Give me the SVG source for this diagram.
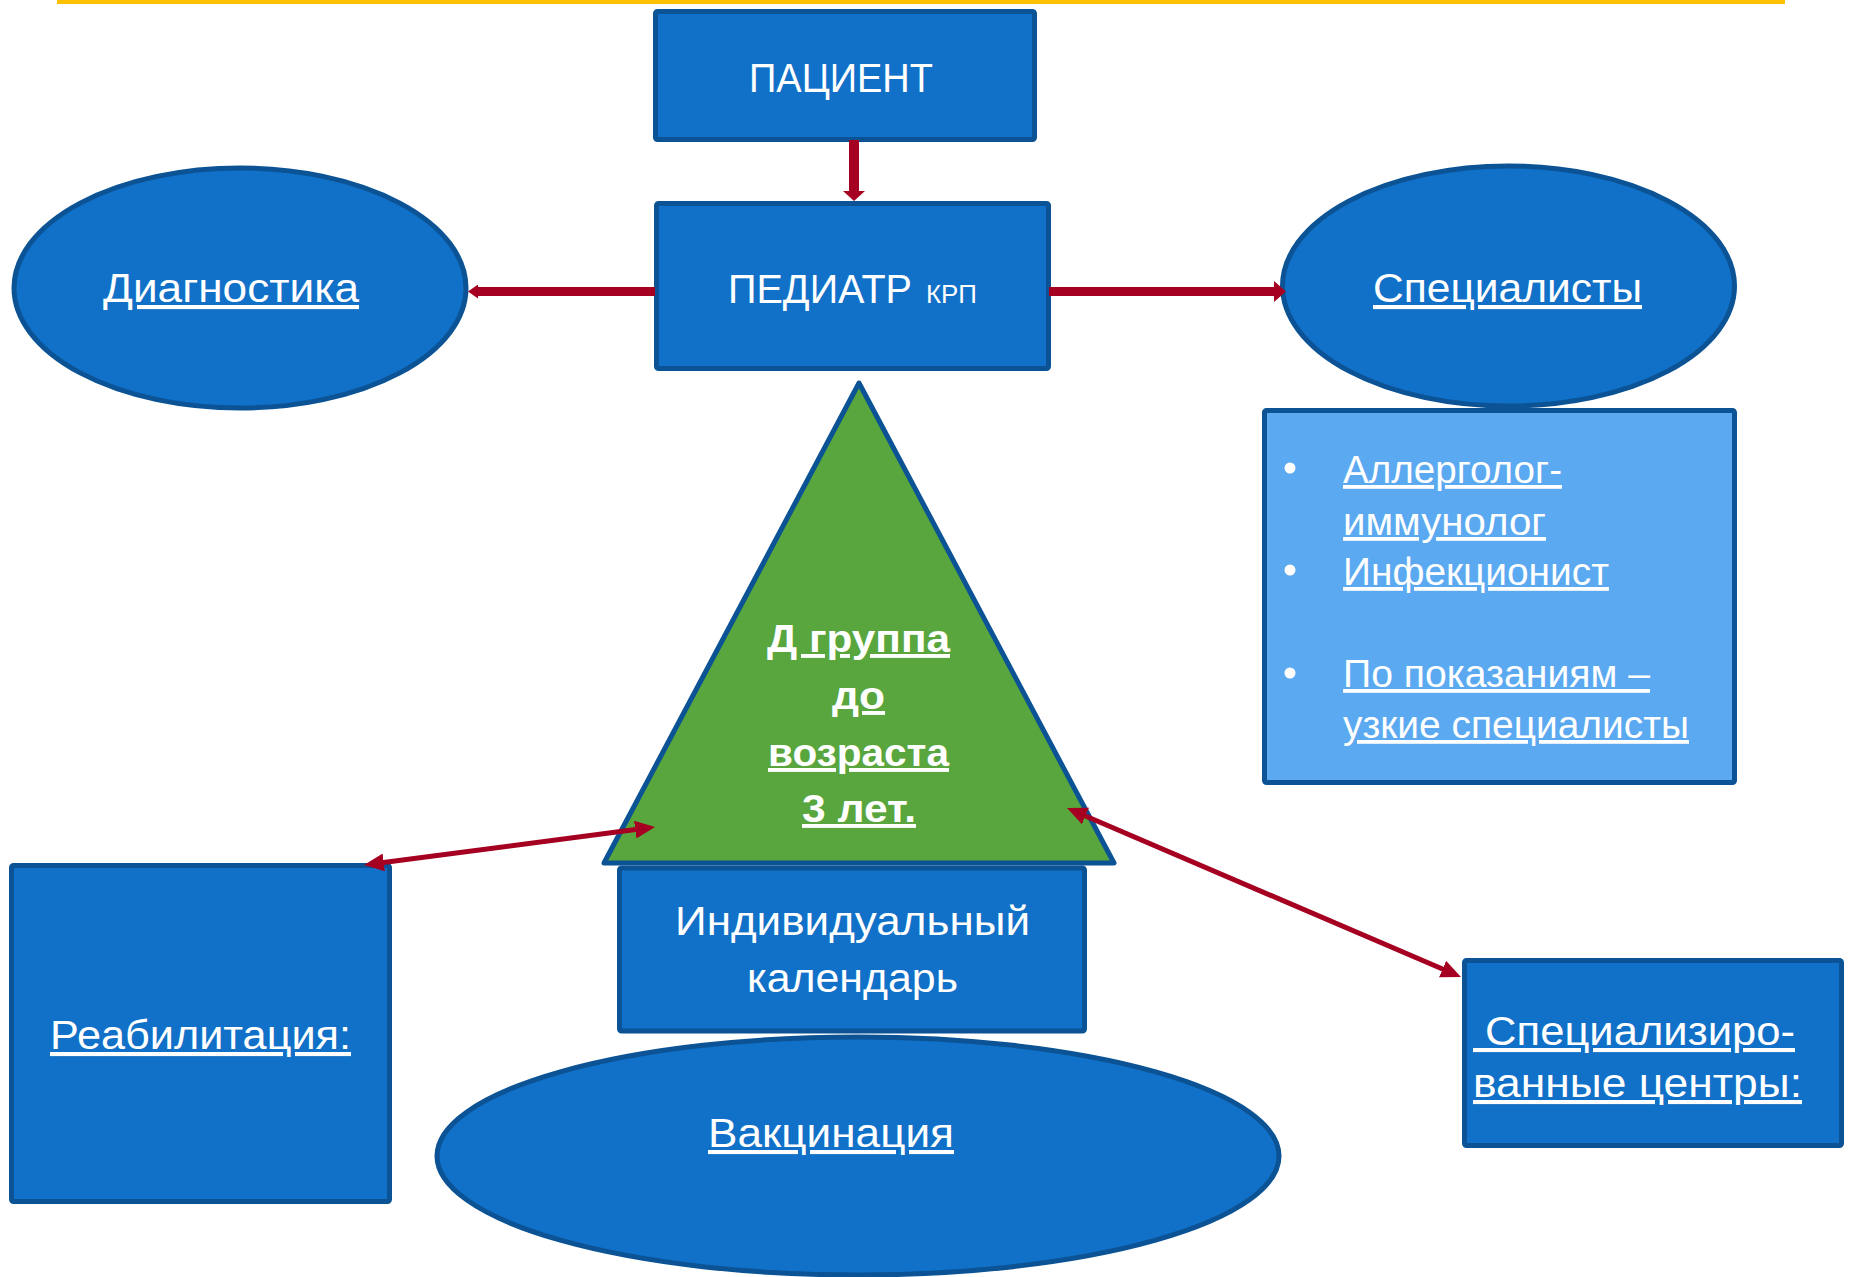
<svg xmlns="http://www.w3.org/2000/svg" width="1850" height="1277" viewBox="0 0 1850 1277">
<style>
.node{fill:#1170C7;stroke:#0B5394;stroke-width:5;stroke-linejoin:round}
.light{fill:#5BA9F0;stroke:#0B5394;stroke-width:5;stroke-linejoin:round}
.tri{fill:#58A63D;stroke:#0B5394;stroke-width:5;stroke-linejoin:round}
.t{font-family:"Liberation Sans",Arial,sans-serif;fill:#FFFFFF}
.u{text-decoration:underline}
.b{font-weight:bold}
.conn{stroke:#A50021;fill:none}
</style>
<defs>
<marker id="headV" markerUnits="userSpaceOnUse" markerWidth="10" markerHeight="22" refX="0" refY="11" orient="auto" viewBox="0 0 10 22"><path d="M0,0 L10,11 L0,22 z" fill="#A50021"/></marker>
<marker id="headR" markerUnits="userSpaceOnUse" markerWidth="12" markerHeight="21" refX="0" refY="10.5" orient="auto" viewBox="0 0 12 21"><path d="M0,0 L12,10.5 L0,21 z" fill="#A50021"/></marker>
<marker id="headL" markerUnits="userSpaceOnUse" markerWidth="10" markerHeight="14" refX="0" refY="7" orient="auto" viewBox="0 0 10 14"><path d="M0,0 L10,7 L0,14 z" fill="#A50021"/></marker>
<marker id="headThin" markerUnits="userSpaceOnUse" markerWidth="20" markerHeight="18" refX="12" refY="9" orient="auto-start-reverse" viewBox="0 0 20 18"><path d="M0,0 L20,9 L0,18 z" fill="#A50021"/></marker>
</defs>
<rect x="57" y="0" width="1728" height="4" fill="#FFC000"/>
<g id="diagnostika">
<ellipse class="node" cx="240" cy="288" rx="226" ry="120"/>
<text class="t u" x="103" y="302" font-size="41" textLength="256" lengthAdjust="spacingAndGlyphs">Диагностика</text>
</g>
<g id="specialisty">
<ellipse class="node" cx="1508.5" cy="286" rx="226" ry="120"/>
<text class="t u" x="1373" y="302" font-size="41" textLength="269" lengthAdjust="spacingAndGlyphs">Специалисты</text>
</g>
<g id="pacient">
<rect class="node" x="655.5" y="11.5" width="379" height="128" rx="2"/>
<text class="t" x="749" y="92" font-size="41" textLength="184" lengthAdjust="spacingAndGlyphs">ПАЦИЕНТ</text>
</g>
<g id="pediatr">
<rect class="node" x="656.5" y="203.5" width="392" height="165" rx="2"/>
<text class="t" x="728" y="303" font-size="40" textLength="184" lengthAdjust="spacingAndGlyphs">ПЕДИАТР</text>
<text class="t" x="926" y="303" font-size="26" textLength="51" lengthAdjust="spacingAndGlyphs">КРП</text>
</g>
<g id="spisok">
<rect class="light" x="1264.5" y="410.5" width="470" height="372" rx="2"/>
<circle cx="1290" cy="468" r="5.5" fill="#FFFFFF"/>
<circle cx="1290" cy="570" r="5.5" fill="#FFFFFF"/>
<circle cx="1290" cy="673" r="5.5" fill="#FFFFFF"/>
<text class="t u" x="1343" y="483" font-size="38" textLength="219" lengthAdjust="spacingAndGlyphs">Аллерголог-</text>
<text class="t u" x="1343" y="535" font-size="38" textLength="203" lengthAdjust="spacingAndGlyphs">иммунолог</text>
<text class="t u" x="1343" y="585" font-size="38" textLength="266" lengthAdjust="spacingAndGlyphs">Инфекционист</text>
<text class="t u" x="1343" y="687" font-size="38" textLength="307" lengthAdjust="spacingAndGlyphs">По показаниям –</text>
<text class="t u" x="1343" y="738" font-size="38" textLength="346" lengthAdjust="spacingAndGlyphs">узкие специалисты</text>
</g>
<g id="vakcinaciya">
<ellipse class="node" cx="858" cy="1156" rx="421" ry="119"/>
<text class="t u" x="708" y="1147" font-size="41" textLength="246" lengthAdjust="spacingAndGlyphs">Вакцинация</text>
</g>
<g id="kalendar">
<rect class="node" x="619.5" y="868" width="465" height="163" rx="2"/>
<text class="t" x="675" y="935" font-size="41" textLength="355" lengthAdjust="spacingAndGlyphs">Индивидуальный</text>
<text class="t" x="747" y="992" font-size="41" textLength="211" lengthAdjust="spacingAndGlyphs">календарь</text>
</g>
<g id="dgruppa">
<path class="tri" d="M859,383 L1114,863 L604,863 Z"/>
<text class="t b u" x="767" y="652" font-size="39" textLength="183" lengthAdjust="spacingAndGlyphs">Д группа</text>
<text class="t b u" x="832" y="709" font-size="39" textLength="53" lengthAdjust="spacingAndGlyphs">до</text>
<text class="t b u" x="768" y="766" font-size="39" textLength="181" lengthAdjust="spacingAndGlyphs">возраста</text>
<text class="t b u" x="802" y="822" font-size="39" textLength="114" lengthAdjust="spacingAndGlyphs">3 лет.</text>
</g>
<g id="reabilitaciya">
<rect class="node" x="11.5" y="865.5" width="378" height="336" rx="2"/>
<text class="t u" x="50" y="1049" font-size="41" textLength="301" lengthAdjust="spacingAndGlyphs">Реабилитация:</text>
</g>
<g id="centry">
<rect class="node" x="1464.5" y="960.5" width="377" height="185" rx="2"/>
<text class="t u" x="1473" y="1045" font-size="41" style="white-space:pre" textLength="322" lengthAdjust="spacingAndGlyphs"> Специализиро-</text>
<text class="t u" x="1473" y="1097" font-size="41" textLength="329" lengthAdjust="spacingAndGlyphs">ванные центры:</text>
</g>
<g id="connectors">
<line class="conn" x1="854" y1="140" x2="854" y2="191" stroke-width="10" marker-end="url(#headV)"/>
<line class="conn" x1="655" y1="291.5" x2="478" y2="291.5" stroke-width="9" marker-end="url(#headL)"/>
<line class="conn" x1="1049" y1="291.5" x2="1274" y2="291.5" stroke-width="9" marker-end="url(#headR)"/>
<line class="conn" x1="371.9" y1="864" x2="647.1" y2="828" stroke-width="5" marker-start="url(#headThin)" marker-end="url(#headThin)"/>
<line class="conn" x1="1074.4" y1="811.2" x2="1453.6" y2="973.8" stroke-width="5" marker-start="url(#headThin)" marker-end="url(#headThin)"/>
</g>
</svg>
